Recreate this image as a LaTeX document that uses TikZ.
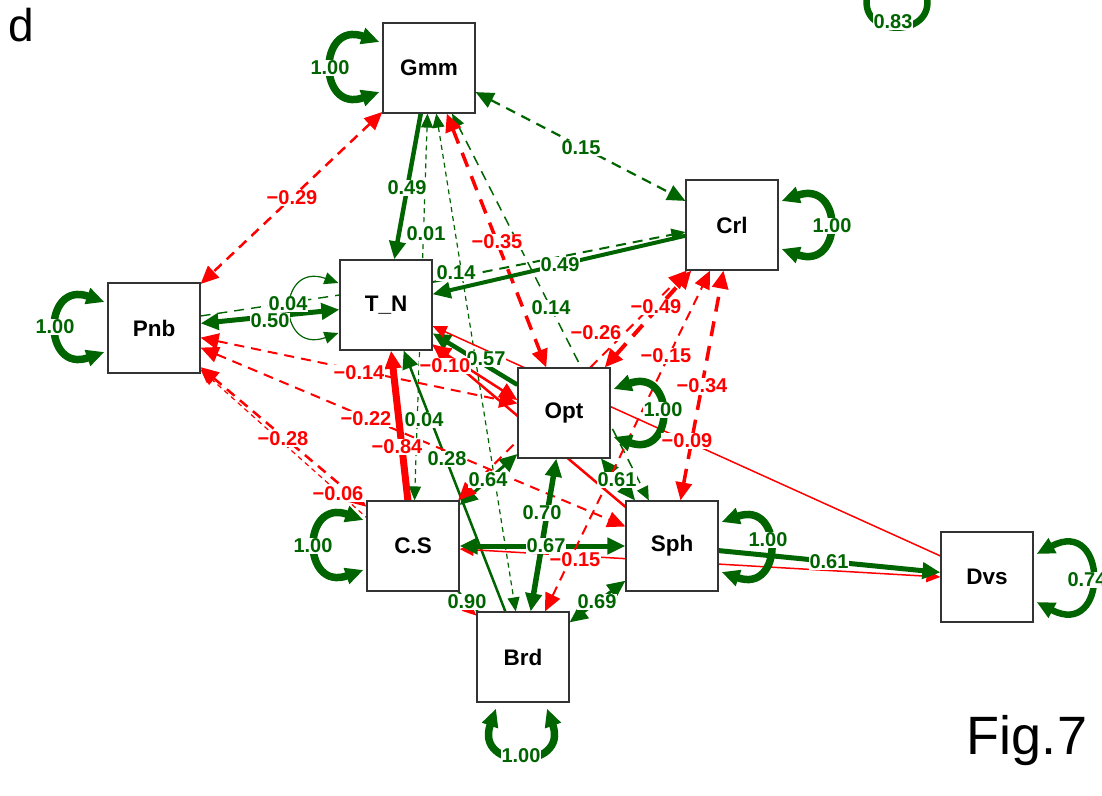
\documentclass[tikz,border=0pt]{standalone}
\usepackage{fontspec}
\setmainfont{Liberation Sans}
\usetikzlibrary{arrows.meta,calc}
\definecolor{semgreen}{RGB}{0,100,0}
\definecolor{semred}{RGB}{255,0,0}
\pgfdeclarelayer{bg}
\pgfsetlayers{bg,main}
\tikzset{
 box/.style={rectangle, draw=black!80, line width=1.2pt, fill=white, minimum width=92pt, minimum height=90pt, inner sep=0pt, font=\fontsize{22.5}{25}\selectfont\bfseries},
 lab/.style={fill=white, inner sep=0.8pt, font=\fontsize{20}{22}\selectfont\bfseries},
 gl/.style={lab, text=semgreen},
 rl/.style={lab, text=semred},
 G/.style={draw=semgreen, line width=#1},
 R/.style={draw=semred, line width=#1},
 tipA/.style={-{Triangle[length=18pt,width=16pt]}},
 tipB/.style={{Triangle[length=18pt,width=16pt]}-{Triangle[length=18pt,width=16pt]}},
 tipAs/.style={-{Triangle[length=14pt,width=12pt]}},
 tipBs/.style={{Triangle[length=14pt,width=12pt]}-{Triangle[length=14pt,width=12pt]}},
 dA/.style={dash pattern=on 10pt off 7pt},
 dB/.style={dash pattern=on 15pt off 10pt},
 dC/.style={dash pattern=on 5pt off 4pt},
 lp/.style={line cap=round, tipB},
}
\begin{document}
\begin{tikzpicture}[x=1pt,y=-1pt]
\useasboundingbox (0,0) rectangle (1102,795);
% boxes
\node[box] (Gmm) at (429,68) {Gmm};
\node[box] (Crl) at (732,225) {Crl};
\node[box] (Pnb) at (154,328) {Pnb};
\node[box] (TN) at (386,305) {T\_N};
\node[box] (Opt) at (564,413) {Opt};
\node[box] (CS) at (413,546) {C.S};
\node[box] (Sph) at (672,546) {Sph};
\node[box] (Brd) at (523,657) {Brd};
\node[box] (Dvs) at (987,577) {Dvs};
\begin{pgfonlayer}{bg}
\fill[white] (0,0) rectangle (1102,795);
% edges from Gmm
\draw[G=4.5, tipA] (Gmm) -- (TN);
\draw[G=1.2, dC, tipBs] (Gmm) -- (CS);
\draw[G=1.2, dC, tipBs] (Gmm) -- (Brd);
\draw[G=1.5, dA, tipBs] (Gmm) -- (Sph);
\draw[R=3.5, dB, tipB] (Gmm) -- (Opt);
\draw[G=2.2, dA, tipB] (Gmm) -- (Crl);
\draw[R=2.5, dA, tipB] (Gmm) -- (Pnb);
% T_N edges
\draw[G=4, tipA] (Crl) -- (TN);
\draw[G=2, dA, tipAs] ([yshift=23pt]TN.east) -- ([yshift=-7pt]Crl.west);
\draw[G=5, tipB] (Pnb) -- (TN);
\draw[G=1.4, dA] ([yshift=12pt]Pnb.east) -- ([yshift=10pt]TN.west);
\draw[G=4.5, tipA] (Opt) -- (TN);
\draw[R=2.5, tipB] ([yshift=5pt]TN.south east) -- ([yshift=13pt]Opt.west);
\draw[R=1.5, tipAs] (Dvs) -- (TN);
\draw[R=2.5, tipA] (Sph) -- (TN);
\draw[R=7, tipA] (CS) -- (TN);
\draw[G=2.5, tipA] (Brd) -- (TN);
% Pnb edges
\draw[R=2, dA, tipB] (Pnb) -- (Opt);
\draw[R=2, dA, tipB] (Pnb) -- (Sph);
\draw[R=2.5, dA, tipB] (Pnb) -- (CS);
\draw[R=1.2, dC, tipBs] (Pnb) -- (Brd);
% C.S edges
\draw[G=3, tipB] (CS) -- (Opt);
\draw[G=2] (CS) -- (Brd);
\draw[R=1.5, tipBs] ([yshift=-3pt]CS.east) -- (Dvs.west);
\draw[G=5, tipB] (CS) -- (Sph);
\draw[R=2, dA, tipB] (CS) -- (Crl);
% others
\draw[G=5, tipA] (Sph) -- (Dvs);
\draw[G=5.5, tipB] (Brd) -- (Opt);
\draw[G=3, tipB] (Sph) -- (Brd);
\draw[G=2, tipB] (Opt) -- (Sph);
\draw[R=4, dB, tipB] (Opt) -- (Crl);
\draw[R=2, dA, tipB] (Brd) -- (Crl);
\draw[R=3.5, dB, tipB] (Sph) -- (Crl);
% residual loops
\draw[G=7.5, lp] ($(Gmm.west)+(-3,-26)$) .. controls +(-62,-22) and +(-62,22) .. ($(Gmm.west)+(-3,24)$);
\draw[G=7.5, lp] ($(Pnb.west)+(-3,-26)$) .. controls +(-62,-22) and +(-62,22) .. ($(Pnb.west)+(-3,24)$);
\draw[G=1.2, line cap=round, tipBs] ($(TN.west)+(-1,-22)$) .. controls +(-62,-22) and +(-62,22) .. ($(TN.west)+(-1,28)$);
\draw[G=7.5, lp] ($(CS.west)+(-3,-26)$) .. controls +(-62,-22) and +(-62,22) .. ($(CS.west)+(-3,24)$);
\draw[G=7.5, lp] ($(Crl.east)+(3,-24)$) .. controls +(62,-22) and +(62,22) .. ($(Crl.east)+(3,24)$);
\draw[G=7.5, lp] ($(Opt.east)+(3,-24)$) .. controls +(62,-22) and +(62,22) .. ($(Opt.east)+(3,24)$);
\draw[G=7.5, lp] ($(Sph.east)+(3,-24)$) .. controls +(62,-22) and +(62,22) .. ($(Sph.east)+(3,26)$);
\draw[G=6.5, lp] ($(Dvs.east)+(3,-23)$) .. controls +(72,-38) and +(72,38) .. ($(Dvs.east)+(3,25)$);
\draw[G=7.5, lp] ($(Brd.south)+(-27,6)$) .. controls +(-22,62) and +(22,62) .. ($(Brd.south)+(24,6)$);
\draw[G=6.5, line cap=round] (867,-3) .. controls (860,38) and (934,38) .. (927,-3);
\end{pgfonlayer}
% edge labels
\node[gl] (a1) at (407,188) {0.49};
\node[gl] (a2) at (426,234) {0.01};
\node[gl] (a3) at (456,273) {0.14};
\node[gl] (a4) at (551,308) {0.14};
\node[rl] (a5) at (497,242) {−0.35};
\node[gl] (a6) at (581,148) {0.15};
\node[rl] (a7) at (292,198) {−0.29};
\node[gl] (a8) at (560,265) {0.49};
\node[gl] (a9) at (288,304) {0.04};
\node[gl] (a10) at (270,321) {0.50};
\node[gl] (a11) at (486,359) {0.57};
\node[rl] (a12) at (445,366) {−0.10};
\node[rl] (a13) at (359,373) {−0.14};
\node[rl] (a14) at (366,419) {−0.22};
\node[rl] (a15) at (397,447) {−0.84};
\node[gl] (a16) at (424,420) {0.04};
\node[gl] (a17) at (447,459) {0.28};
\node[gl] (a18) at (488,480) {0.64};
\node[gl] (a19) at (542,513) {0.70};
\node[gl] (a20) at (546,546) {0.67};
\node[rl] (a21) at (575,560) {−0.15};
\node[gl] (a22) at (617,480) {0.61};
\node[gl] (a23) at (467,602) {0.90};
\node[gl] (a24) at (597,602) {0.69};
\node[rl] (a25) at (338,494) {−0.06};
\node[rl] (a26) at (283,439) {−0.28};
\node[rl] (a27) at (596,333) {−0.26};
\node[rl] (a28) at (656,307) {−0.49};
\node[rl] (a29) at (666,356) {−0.15};
\node[rl] (a30) at (702,386) {−0.34};
\node[rl] (a31) at (687,441) {−0.09};
\node[gl] (a32) at (829,562) {0.61};
% loop labels
\node[gl] (b1) at (330,68) {1.00};
\node[gl] (b2) at (55,327) {1.00};
\node[gl] (b3) at (313,546) {1.00};
\node[gl] (b4) at (832,226) {1.00};
\node[gl] (b5) at (663,410) {1.00};
\node[gl] (b6) at (768,540) {1.00};
\node[gl] (b7) at (1087,580) {0.74};
\node[gl] (b8) at (521,756) {1.00};
\node[gl] (b9) at (893,22) {0.83};
% panel texts
\node[font=\fontsize{46}{50}\selectfont, inner sep=0pt] (tagd) at (21,25) {d};
\node[font=\fontsize{54}{60}\selectfont, inner sep=0pt] (figt) at (1027,741) {Fig.7};
\end{tikzpicture}
\end{document}
